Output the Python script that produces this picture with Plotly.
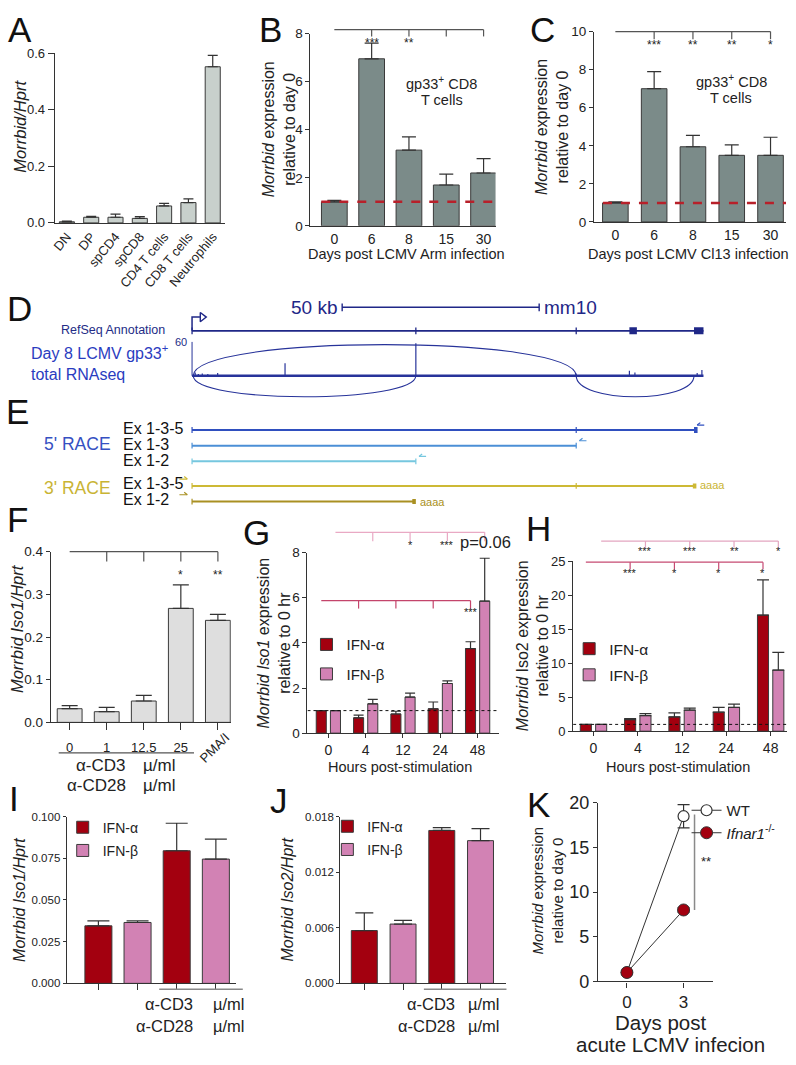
import plotly.graph_objects as go

W, H = 796, 1065
SANS = "Liberation Sans, Arial, Helvetica, sans-serif"
INK = "#222222"
AXC = "#333333"

# ======================= data =======================
A_cats = ["DN", "DP", "spCD4", "spCD8", "CD4 T cells", "CD8 T cells", "Neutrophils"]
A_vals = [0.004, 0.020, 0.020, 0.016, 0.060, 0.072, 0.552]
A_err = [0.002, 0.003, 0.011, 0.006, 0.009, 0.013, 0.040]

BC_days = ["0", "6", "8", "15", "30"]
B_vals = [1.0, 6.95, 3.15, 1.70, 2.20]
B_err = [0.06, 0.65, 0.55, 0.45, 0.60]
B_stars = ["", "***", "**", "", ""]
C_vals = [1.0, 7.0, 3.95, 3.50, 3.50]
C_err = [0.06, 0.90, 0.60, 0.55, 0.95]
C_stars = ["", "***", "**", "**", "*"]

# genome track (kb from TSS)
gene_end_kb = 129.8
exon_kb = [0.0, 56.8, 97.5, 111.0, 127.4]
exon_len_kb = [0.3, 0.3, 0.3, 1.9, 2.4]
scalebar_kb = [38.1, 88.1]
cov_kb = [0.8, 1.6, 2.6, 4.0, 6.5, 23.6, 56.8, 97.5, 111.0, 112.4, 128.2, 129.4]
cov_reads = [6, 3, 4, 3, 5, 22, 57, 4, 9, 6, 5, 10]
junctions_up = [(0.3, 97.5)]
junctions_down = [(0.3, 56.8), (97.5, 127.4)]
race5_names = ["Ex 1-3-5", "Ex 1-3", "Ex 1-2"]
race5_end_kb = [127.4, 97.5, 56.8]
race5_mid_kb = [[97.5], [], []]
race3_names = ["Ex 1-3-5", "Ex 1-2"]
race3_end_kb = [127.4, 56.2]
race3_mid_kb = [[97.5], []]

F_labels = ["0", "1", "12.5", "25", "PMA/I"]
F_vals = [0.032, 0.025, 0.050, 0.267, 0.239]
F_err = [0.007, 0.010, 0.013, 0.055, 0.014]
F_stars = ["", "", "", "*", "**"]

hours = ["0", "4", "12", "24", "48"]
G_alpha = [1.0, 0.68, 0.85, 1.08, 3.75]
G_alpha_err = [0.0, 0.12, 0.12, 0.30, 0.30]
G_beta = [1.0, 1.30, 1.60, 2.20, 5.85]
G_beta_err = [0.0, 0.20, 0.17, 0.12, 1.90]
G_stars_beta = ["", "", "*", "***", ""]
G_stars_alpha = ["", "", "", "", "***"]
H_alpha = [1.0, 1.70, 2.10, 2.80, 17.1]
H_alpha_err = [0.0, 0.15, 0.60, 0.70, 5.2]
H_beta = [1.0, 2.30, 3.10, 3.50, 9.0]
H_beta_err = [0.0, 0.30, 0.30, 0.50, 2.6]
H_stars_beta = ["", "***", "***", "**", "*"]
H_stars_alpha = ["", "***", "*", "*", "*"]

I_alpha = [0.0345, 0.0795]
I_alpha_err = [0.003, 0.0165]
I_beta = [0.0365, 0.0745]
I_beta_err = [0.001, 0.012]
J_alpha = [0.0057, 0.0165]
J_alpha_err = [0.0019, 0.0003]
J_beta = [0.0064, 0.0154]
J_beta_err = [0.0004, 0.0013]

K_days = [0, 3]
K_wt = [1.0, 18.5]
K_wt_err = [0.0, 1.3]
K_ko = [1.0, 8.0]
K_ko_err = [0.0, 0.25]

# ======================= geometry (pixels) =======================
P = {
    "A": dict(xa="x", ya="y", xpx=(51, 222), ypx=(44, 217), xr=[-0.5, 6.5], yr=[0, 0.6]),
    "B": dict(xa="x2", ya="y2", xpx=(308, 494), ypx=(24, 220), xr=[-0.64, 4.32], yr=[0, 8]),
    "C": dict(xa="x3", ya="y3", xpx=(593, 786), ypx=(22, 216), xr=[-0.55, 4.4], yr=[0, 10]),
    "F": dict(xa="x6", ya="y6", xpx=(47, 228), ypx=(552, 726), xr=[-0.51, 4.35], yr=[0, 0.4]),
    "G": dict(xa="x7", ya="y7", xpx=(305, 497), ypx=(553, 737), xr=[-0.56, 4.56], yr=[0, 8]),
    "H": dict(xa="x8", ya="y8", xpx=(572, 787), ypx=(562, 735), xr=[-0.46, 4.37], yr=[0, 25]),
    "I": dict(xa="x9", ya="y9", xpx=(63, 233), ypx=(822, 992), xr=[-0.81, 3.51], yr=[0, 0.1]),
    "J": dict(xa="x10", ya="y10", xpx=(338, 505), ypx=(822, 992), xr=[-0.62, 3.67], yr=[0, 0.018]),
    "K": dict(xa="x11", ya="y11", xpx=(597, 713), ypx=(808, 990), xr=[-1.53, 4.58], yr=[0, 20]),
}


def X(px):
    return px / W


def Y(py):
    return 1 - py / H


def fx(p, v):
    l, r = P[p]["xpx"]
    a, b = P[p]["xr"]
    return X(l + (v - a) / (b - a) * (r - l))


def fy(p, v):
    t, bt = P[p]["ypx"]
    a, b = P[p]["yr"]
    return Y(bt - (v - a) / (b - a) * (bt - t))


def axkey(a):
    return ("xaxis" if a[0] == "x" else "yaxis") + a[1:]


def tf(size):
    return dict(family=SANS, size=size, color=INK)


def base_axis(size=13.5):
    return dict(showline=True, linecolor=AXC, linewidth=1.2, ticks="outside", ticklen=5,
                tickwidth=1.2, tickcolor=AXC, showgrid=False, zeroline=False, fixedrange=True,
                tickfont=tf(size))


layout_axes = {}
for p, g in P.items():
    layout_axes[axkey(g["xa"])] = dict(domain=[X(g["xpx"][0]), X(g["xpx"][1])], range=g["xr"],
                                       anchor=g["ya"], **base_axis())
    layout_axes[axkey(g["ya"])] = dict(domain=[Y(g["ypx"][1]), Y(g["ypx"][0])], range=g["yr"],
                                       anchor=g["xa"], **base_axis())

# per panel tick settings
layout_axes["xaxis"].update(tickvals=list(range(7)), ticktext=A_cats, tickangle=-50, ticks="",
                            tickfont=tf(13))
layout_axes["yaxis"].update(tickvals=[0, 0.2, 0.4, 0.6], tickformat=".1f", ticklen=6, tickfont=tf(13))
for k in ("xaxis2", "xaxis3"):
    layout_axes[k].update(tickvals=list(range(5)), ticktext=BC_days, ticks="", tickfont=tf(14))
layout_axes["yaxis2"].update(tickvals=[0, 2, 4, 6, 8], ticklen=4, tickfont=tf(13.5))
layout_axes["yaxis3"].update(tickvals=[0, 2, 4, 6, 8, 10], ticklen=4, tickfont=tf(13.5))
layout_axes["xaxis6"].update(tickvals=[0, 1, 2, 3], ticktext=F_labels[:4], ticklen=7,
                             ticklabelstandoff=6, tickfont=tf(13),
                             minor=dict(tickvals=[4], ticks="outside", ticklen=7, tickwidth=1.2,
                                        tickcolor=AXC))
layout_axes["yaxis6"].update(tickvals=[0, 0.1, 0.2, 0.3, 0.4], tickformat=".1f", ticklen=4)
for k in ("xaxis7", "xaxis8"):
    layout_axes[k].update(tickvals=list(range(5)), ticktext=hours, ticklen=4, tickfont=tf(14))
layout_axes["yaxis7"].update(tickvals=[0, 2, 4, 6, 8], ticklen=4)
layout_axes["yaxis8"].update(tickvals=[0, 5, 10, 15, 20, 25], ticklen=4, tickfont=tf(13))
for k in ("xaxis9", "xaxis10"):
    layout_axes[k].update(tickvals=list(range(4)), showticklabels=False, ticklen=6)
layout_axes["yaxis9"].update(tickvals=[0, 0.025, 0.05, 0.075, 0.1], tickformat=".3f", ticklen=3,
                             tickfont=tf(11.5))
layout_axes["yaxis10"].update(tickvals=[0, 0.006, 0.012, 0.018], tickformat=".3f", ticklen=3,
                              tickfont=tf(11.5))
layout_axes["xaxis11"].update(tickvals=[0, 3], ticklen=5, tickfont=tf(17))
layout_axes["yaxis11"].update(tickvals=[0, 5, 10, 15, 20], ticklen=4, tickfont=tf(18))

# genome axes (x in kb, y4 in track rows, y5 in reads)
KB_PX = 3.96
TSS_PX = 189
layout_axes["xaxis4"] = dict(domain=[0, 1], range=[-TSS_PX / KB_PX, (W - TSS_PX) / KB_PX],
                             visible=False, anchor="y4", fixedrange=True)
layout_axes["yaxis4"] = dict(domain=[Y(525), Y(285)], range=[525, 285], visible=False,
                             anchor="x4", fixedrange=True)
layout_axes["yaxis5"] = dict(domain=[Y(396), Y(338)], range=[-40, 60], visible=False,
                             anchor="x4", fixedrange=True)

fig = go.Figure()

RED = "#a3000f"
PINK = "#d282b4"
BAR_LINE = dict(color="#3a3a3a", width=1)


def err(e, w):
    return dict(type="data", symmetric=False, array=e, arrayminus=[0] * len(e), color=AXC,
                thickness=1.2, width=w)


def pax(p):
    return dict(xaxis=P[p]["xa"], yaxis=P[p]["ya"])


# ---- A ----
fig.add_trace(go.Bar(x=list(range(7)), y=A_vals, width=0.62, error_y=err(A_err, 5),
                     marker=dict(color="#c8d0cc", line=BAR_LINE), showlegend=False, **pax("A")))
# ---- B, C ----
fig.add_trace(go.Bar(x=list(range(5)), y=B_vals, width=0.69, error_y=err(B_err, 7),
                     marker=dict(color="#7b8b89", line=BAR_LINE), showlegend=False, **pax("B")))
fig.add_trace(go.Bar(x=list(range(5)), y=C_vals, width=0.66, error_y=err(C_err, 7),
                     marker=dict(color="#7b8b89", line=BAR_LINE), showlegend=False, **pax("C")))
# ---- F ----
fig.add_trace(go.Bar(x=list(range(5)), y=F_vals, width=0.67, error_y=err(F_err, 8),
                     marker=dict(color="#dedede", line=BAR_LINE), showlegend=False, **pax("F")))
# ---- G ----
fig.add_trace(go.Bar(x=list(range(5)), y=G_alpha, width=0.27, offset=-0.325, name="IFN-α",
                     error_y=err(G_alpha_err, 5), marker=dict(color=RED, line=BAR_LINE),
                     legend="legend", legendgroup="ga", **pax("G")))
fig.add_trace(go.Bar(x=list(range(5)), y=G_beta, width=0.27, offset=0.055, name="IFN-β",
                     error_y=err(G_beta_err, 5), marker=dict(color=PINK, line=BAR_LINE),
                     legend="legend", legendgroup="gb", **pax("G")))
# ---- H ----
fig.add_trace(go.Bar(x=list(range(5)), y=H_alpha, width=0.25, offset=-0.298, name="IFN-α",
                     error_y=err(H_alpha_err, 6), marker=dict(color=RED, line=BAR_LINE),
                     legend="legend2", legendgroup="ha", **pax("H")))
fig.add_trace(go.Bar(x=list(range(5)), y=H_beta, width=0.25, offset=0.048, name="IFN-β",
                     error_y=err(H_beta_err, 6), marker=dict(color=PINK, line=BAR_LINE),
                     legend="legend2", legendgroup="hb", **pax("H")))
# ---- I ----
fig.add_trace(go.Bar(x=[0, 2], y=I_alpha, width=0.69, name="IFN-α", error_y=err(I_alpha_err, 11),
                     marker=dict(color=RED, line=BAR_LINE), legend="legend3", legendgroup="ia", **pax("I")))
fig.add_trace(go.Bar(x=[1, 3], y=I_beta, width=0.69, name="IFN-β", error_y=err(I_beta_err, 11),
                     marker=dict(color=PINK, line=BAR_LINE), legend="legend3", legendgroup="ib", **pax("I")))
# ---- J ----
fig.add_trace(go.Bar(x=[0, 2], y=J_alpha, width=0.67, name="IFN-α", error_y=err(J_alpha_err, 9),
                     marker=dict(color=RED, line=BAR_LINE), legend="legend4", legendgroup="ja", **pax("J")))
fig.add_trace(go.Bar(x=[1, 3], y=J_beta, width=0.67, name="IFN-β", error_y=err(J_beta_err, 9),
                     marker=dict(color=PINK, line=BAR_LINE), legend="legend4", legendgroup="jb", **pax("J")))
# ---- K ----
fig.add_trace(go.Scatter(x=K_days, y=K_wt, mode="lines+markers", name="WT",
                         line=dict(color=AXC, width=1),
                         marker=dict(symbol="circle", size=11, color="white", line=dict(color=AXC, width=1.2)),
                         error_y=dict(type="data", array=K_wt_err, color=AXC, thickness=1.2, width=6),
                         legend="legend5", cliponaxis=False, **pax("K")))
fig.add_trace(go.Scatter(x=K_days, y=K_ko, mode="lines+markers", name="<i>Ifnar1</i><sup>-/-</sup>",
                         line=dict(color=AXC, width=1),
                         marker=dict(symbol="circle", size=12, color=RED, line=dict(color=AXC, width=1)),
                         error_y=dict(type="data", array=K_ko_err, color=AXC, thickness=1.2, width=6),
                         legend="legend5", cliponaxis=False, **pax("K")))

# ---- D / E genome tracks ----
NAVY = "#1f2787"
COV = "#27339a"
ROW_SCALE, ROW_TSS, ROW_REF = 303, 313, 327
ROWS5 = [428, 444, 460]
ROWS3 = [485, 501]
C5 = ["#2f4fbf", "#4b8fd6", "#76c7df"]
C3 = ["#cdb935", "#a99022"]


def gline(xs, ys, color, width, yaxis="y4", mode="lines", marker=None):
    kw = dict(x=xs, y=ys, mode=mode, line=dict(color=color, width=width), xaxis="x4", yaxis=yaxis,
              showlegend=False, hoverinfo="skip")
    if marker:
        kw["marker"] = marker
    fig.add_trace(go.Scatter(**kw))


s0, s1 = scalebar_kb
gline([s0, s1, None, s0, s0, None, s1, s1],
      [ROW_SCALE, ROW_SCALE, None, ROW_SCALE - 4, ROW_SCALE + 4, None, ROW_SCALE - 4, ROW_SCALE + 4], NAVY, 1.4)
# refseq gene
gline([0, gene_end_kb], [ROW_REF, ROW_REF], NAVY, 1.6)
xs, ys = [], []
for e in exon_kb[:3]:
    xs += [e, e, None]
    ys += [ROW_REF - 3.5, ROW_REF + 3.5, None]
gline(xs, ys, NAVY, 1.3)
xs, ys = [], []
for e, ln in zip(exon_kb[3:], exon_len_kb[3:]):
    xs += [e, e + ln, None]
    ys += [ROW_REF, ROW_REF, None]
gline(xs, ys, NAVY, 7)
# TSS arrow
gline([0, 0, 2.0], [ROW_REF, ROW_TSS, ROW_TSS], NAVY, 1.5)
gline([2.6], [ROW_TSS], NAVY, 1, mode="markers",
      marker=dict(symbol="triangle-right-open", size=8, color=NAVY, line=dict(width=1.4)))

# coverage
gline([0, gene_end_kb], [0, 0], COV, 2.5, yaxis="y5")
xs, ys = [], []
for pkb, r in zip(cov_kb, cov_reads):
    xs += [pkb, pkb, None]
    ys += [0, r, None]
gline(xs, ys, COV, 1.2, yaxis="y5")
gline([0, 0], [0, 60], COV, 1.0, yaxis="y5")

# RACE products
for i, (nm, end, mids) in enumerate(zip(race5_names, race5_end_kb, race5_mid_kb)):
    r = ROWS5[i]
    c = C5[i]
    gline([0, end], [r, r], c, 2)
    xs, ys = [0, 0, None], [r - 3, r + 3, None]
    for m in mids:
        xs += [m, m, None]
        ys += [r - 3, r + 3, None]
    if i == 0:
        gline([end, end + 0.9], [r, r], c, 6)
    else:
        xs += [end, end, None]
        ys += [r - 3, r + 3, None]
    gline(xs, ys, c, 1.2)
    # primer (half arrow pointing left)
    gline([end + 0.8, end + 2.6, None, end + 0.8, end + 1.6],
          [r - 5, r - 5, None, r - 5, r - 7.5], c, 1.2)

for i, (nm, end, mids) in enumerate(zip(race3_names, race3_end_kb, race3_mid_kb)):
    r = ROWS3[i]
    c = C3[i]
    gline([0, end], [r, r], c, 2)
    xs, ys = [0, 0, None], [r - 3, r + 3, None]
    for m in mids:
        xs += [m, m, None]
        ys += [r - 3, r + 3, None]
    gline(xs, ys, c, 1.2)
    gline([end - 0.3, end + 0.6], [r, r], c, 5)
    gline([-3.2, -1.2, None, -1.2, -2.0], [r - 7, r - 7, None, r - 7, r - 9.5], c, 1.2)

shapes = []


def line(x0, y0, x1, y1, color=AXC, width=1.2, dash=None, xref="paper", yref="paper"):
    d = dict(type="line", x0=x0, y0=y0, x1=x1, y1=y1, xref=xref, yref=yref,
             line=dict(color=color, width=width))
    if dash:
        d["line"]["dash"] = dash
    return d


# sashimi arcs
for a, b in junctions_up:
    shapes.append(dict(type="path", xref="x4", yref="y5",
                       path=f"M {a},0 C {a},73 {b},73 {b},0", line=dict(color=COV, width=1.1)))
for a, b in junctions_down:
    shapes.append(dict(type="path", xref="x4", yref="y5",
                       path=f"M {a},0 C {a},-49 {b},-49 {b},0", line=dict(color=COV, width=1.1)))

# red dashed reference lines (B, C) and dotted (G, H)
shapes.append(line(-0.35, 1, P["B"]["xr"][1], 1, "#b8202a", 2.5, "dash", "x2", "y2"))
shapes.append(line(-0.32, 1, P["C"]["xr"][1], 1, "#b8202a", 2.5, "dash", "x3", "y3"))
shapes.append(line(P["G"]["xr"][0], 1, P["G"]["xr"][1], 1, "#111", 1, "dot", "x7", "y7"))
shapes.append(line(P["H"]["xr"][0], 1, P["H"]["xr"][1], 1, "#111", 1, "dot", "x8", "y8"))


def bracket(p, x0, x1, ticks, ytop, ybot, color=AXC, width=1.2):
    shapes.append(line(fx(p, x0), fy(p, ytop), fx(p, x1), fy(p, ytop), color, width))
    for t in ticks:
        shapes.append(line(fx(p, t), fy(p, ytop), fx(p, t), fy(p, ybot), color, width))


bracket("B", 0, 4, [1, 2, 3, 4], 8.16, 7.88, "#555")
bracket("C", 0, 4, [1, 2, 3, 4], 10.0, 9.6, "#555")
bracket("F", 0, 4, [1, 2, 3, 4], 0.4, 0.377, "#555")
GO, HO = 0.19, 0.173
bracket("G", GO, 4 + GO, [i + GO for i in range(1, 5)], 8.9, 8.5, "#e9a9c4")
bracket("G", -GO, 4 - GO, [i - GO for i in range(1, 5)], 5.87, 5.52, "#c4456b")
bracket("H", HO, 4 + HO, [i + HO for i in range(1, 5)], 28.0, 27.0, "#e3a6c0")
bracket("H", -HO, 4 - HO, [i - HO for i in range(1, 5)], 24.9, 23.8, "#c64a72")
# K significance line
shapes.append(line(3.58, 8.0, 3.58, 18.7, "#8a8a8a", 1.5, None, "x11", "y11"))
# treatment underlines
shapes.append(line(X(55), Y(757), X(191), Y(757), "#555", 1.2))
shapes.append(line(X(156), Y(998), X(240), Y(998), "#888", 1.5))
shapes.append(line(X(422), Y(998), X(505), Y(998), "#888", 1.5))

ann = []


def T(text, x, y, size=14, color=INK, xanchor="center", yanchor="middle", angle=0, align="center"):
    ann.append(dict(text=text, x=x, y=y, xref="paper", yref="paper", showarrow=False,
                    font=dict(family=SANS, size=size, color=color), xanchor=xanchor, yanchor=yanchor,
                    textangle=angle, align=align))


# panel letters
for L, (lx, ly) in {"A": (16, 20), "B": (268, 20), "C": (541, 20), "D": (16, 304), "E": (14, 409),
                    "F": (14, 519), "G": (254, 533), "H": (537, 528), "I": (10, 804), "J": (276, 806),
                    "K": (537, 810)}.items():
    T(L, X(lx), Y(ly), 35, "#111")

# axis titles
T("<i>Morrbid/Hprt</i>", X(16), Y(118), 16.5, angle=-90)
T("<i>Morrbid</i> expression<br>relative to day 0", X(276), Y(122), 16, angle=-90)
T("<i>Morrbid</i> expression<br>relative to day 0", X(551), Y(119), 16, angle=-90)
T("Days post LCMV Arm infection", X(405), Y(249), 14.5)
T("Days post LCMV Cl13 infection", X(688), Y(249), 14.5)
T("<i>Morrbid Iso1/Hprt</i>", X(13), Y(630), 16.5, angle=-90)
T("<i>Morrbid Iso1</i> expression<br>relative to 0 hr", X(271), Y(645), 16, angle=-90)
T("<i>Morrbid</i> Iso2 expression<br>relative to 0 hr", X(531), Y(648), 16, angle=-90)
T("Hours post-stimulation", X(398), Y(771), 14.5)
T("Hours post-stimulation", X(677), Y(771), 14.5)
T("<i>Morrbid Iso1/Hprt</i>", X(16), Y(907), 16, angle=-90)
T("<i>Morrbid Iso2/Hprt</i>", X(285), Y(907), 16, angle=-90)
T("<i>Morrbid</i> expression<br>relative to day 0", X(546), Y(897), 15, angle=-90)
T("Days post", X(660), Y(1032), 20.5)
T("acute LCMV infecion", X(670), Y(1054), 20.5)

# B / C inset labels
T("gp33<sup>+</sup> CD8", X(440), Y(74), 14.5)
T("T cells", X(440), Y(92), 14.5)
T("gp33<sup>+</sup> CD8", X(731), Y(72), 14.5)
T("T cells", X(731), Y(90), 14.5)

# stars
for i, s in enumerate(B_stars):
    if s:
        T(s, fx("B", i), fy("B", 7.6), 12)
for i, s in enumerate(C_stars):
    if s:
        T(s, fx("C", i), fy("C", 9.3), 12)
for i, s in enumerate(F_stars):
    if s:
        T(s, fx("F", i), fy("F", 0.345), 12)
for i, s in enumerate(G_stars_beta):
    if s:
        T(s, fx("G", i + GO), fy("G", 8.35), 11)
for i, s in enumerate(G_stars_alpha):
    if s:
        T(s, fx("G", i - GO), fy("G", 5.35), 11)
T("p=0.06", X(484), Y(542), 16.5)
for i, s in enumerate(H_stars_beta):
    if s:
        T(s, fx("H", i + HO), fy("H", 26.6), 11)
for i, s in enumerate(H_stars_alpha):
    if s:
        T(s, fx("H", i - HO), fy("H", 23.3), 11)
T("**", fx("K", 4.2), fy("K", 13.4), 13)

# F / I / J treatment labels
T("PMA/I", X(212), Y(752), 13, angle=-45)
T("α-CD3", X(125), Y(770), 17, xanchor="right")
T("α-CD28", X(125), Y(790), 17, xanchor="right")
T("µ/ml", X(138), Y(770), 17, xanchor="left")
T("µ/ml", X(138), Y(790), 17, xanchor="left")
for xr_, xl_ in ((192, 208), (455, 464)):
    T("α-CD3", X(xr_), Y(1013), 16.5, xanchor="right")
    T("α-CD28", X(xr_), Y(1035), 16.5, xanchor="right")
    T("µ/ml", X(xl_), Y(1013), 16.5, xanchor="left")
    T("µ/ml", X(xl_), Y(1035), 16.5, xanchor="left")

# genome texts
T("50 kb", X(337), Y(ROW_SCALE), 19, NAVY, xanchor="right")
T("mm10", X(541), Y(ROW_SCALE), 19, NAVY, xanchor="left")
T("RefSeq Annotation", X(164), Y(326), 12.5, "#232c86", xanchor="right")
T("60", X(186), Y(338), 11, "#232c86", xanchor="right")
T("Day 8 LCMV gp33<sup>+</sup><br>total RNAseq", X(25), Y(359), 16, "#2a3cc0", xanchor="left", align="left")
T("5' RACE", X(110), Y(442), 17.5, "#3550c2", xanchor="right")
T("3' RACE", X(110), Y(487), 17.5, "#c9b434", xanchor="right")
for nm, r in zip(race5_names, [427, 443, 459]):
    T(nm, X(118), Y(r), 16, "#111", xanchor="left")
for nm, r in zip(race3_names, [483, 499]):
    T(nm, X(118), Y(r), 16, "#111", xanchor="left")
T("aaaa", X(698), Y(484), 11, "#c9b434", xanchor="left")
T("aaaa", X(416), Y(501), 11, "#a99022", xanchor="left")


def leg(x, y, size, gap):
    return dict(x=X(x), y=Y(y), xanchor="left", yanchor="top", bgcolor="rgba(0,0,0,0)",
                font=dict(family=SANS, size=size, color=INK), tracegroupgap=gap, itemclick=False,
                itemdoubleclick=False)


fig.update_layout(
    width=W, height=H, margin=dict(l=0, r=0, t=0, b=0),
    paper_bgcolor="white", plot_bgcolor="rgba(0,0,0,0)",
    barmode="overlay", font=dict(family=SANS, color=INK),
    showlegend=True,
    legend=leg(304, 630, 15, 7),
    legend2=leg(568, 634, 15.5, 3),
    legend3=leg(59, 817, 14, 2),
    legend4=leg(325, 816, 14, 2),
    legend5=leg(686, 799, 15, 0),
    shapes=shapes, annotations=ann,
    **layout_axes,
)

fig.write_html("out.html", config={"displayModeBar": False},
               post_script="document.body.style.margin='0px';")
